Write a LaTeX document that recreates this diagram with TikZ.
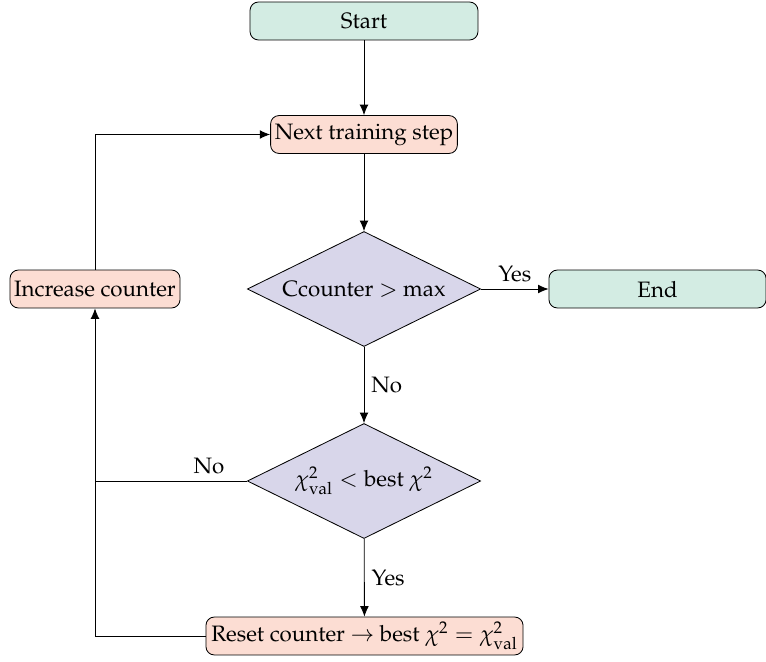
\documentclass[tikz,border=0pt]{standalone}
\usepackage[T1]{fontenc}
\usepackage{mathpazo}
\usetikzlibrary{shapes.geometric,arrows.meta}

\definecolor{termfill}{RGB}{211,236,227}
\definecolor{procfill}{RGB}{252,221,211}
\definecolor{decfill}{RGB}{216,214,234}

\begin{document}
\begin{tikzpicture}[x=0.48pt,y=-0.48pt,
  every node/.style={font=\fontsize{10.7}{13}\selectfont},
  terminal/.style={draw,rounded corners=4pt,fill=termfill,minimum height=18.2pt,inner sep=2pt},
  process/.style={draw,rounded corners=4pt,fill=procfill,minimum height=18.2pt,inner sep=2pt},
  decision/.style={draw,diamond,aspect=2,fill=decfill,inner sep=0pt,minimum width=112pt,minimum height=55.2pt},
  flow/.style={-{Latex[length=5pt,width=4.2pt]}},
  link/.style={}]
\useasboundingbox (0,0) rectangle (766,661);

% nodes
\node[terminal,minimum width=109.4pt] (start) at (364,21) {Start};
\node[process,minimum width=89.3pt] (next) at (364,134.5) {Next training step};
\node[decision] (cmax) at (364,289) {Ccounter $>$ max};
\node[terminal,minimum width=104.2pt] (end) at (657.5,289) {End};
\node[process,minimum width=81.6pt] (inc) at (95,289) {Increase counter};
\node[decision] (chi) at (364,481) {$\chi^2_{\mathrm{val}} < \mbox{best } \chi^2$};
\node[process,minimum width=152.2pt] (reset) at (364.5,636) {Reset counter $\rightarrow$ best $\chi^2 = \chi^2_{\mathrm{val}}$};

\coordinate (join) at (95,481);

% connectors
\draw[flow] (start) -- (next);
\draw[flow] (next) -- (cmax);
\draw[flow] (cmax) -- node[above] {Yes} (end);
\draw[flow] (cmax) -- node[right] {No} (chi);
\draw[flow] (chi) -- node[right] {Yes} (reset);
\draw[link] (chi.west) -- node[above,pos=0.25] {No} (join);
\draw[flow] (reset.west) -| (inc.south);
\draw[flow] (inc.north) |- (next.west);
\end{tikzpicture}
\end{document}
